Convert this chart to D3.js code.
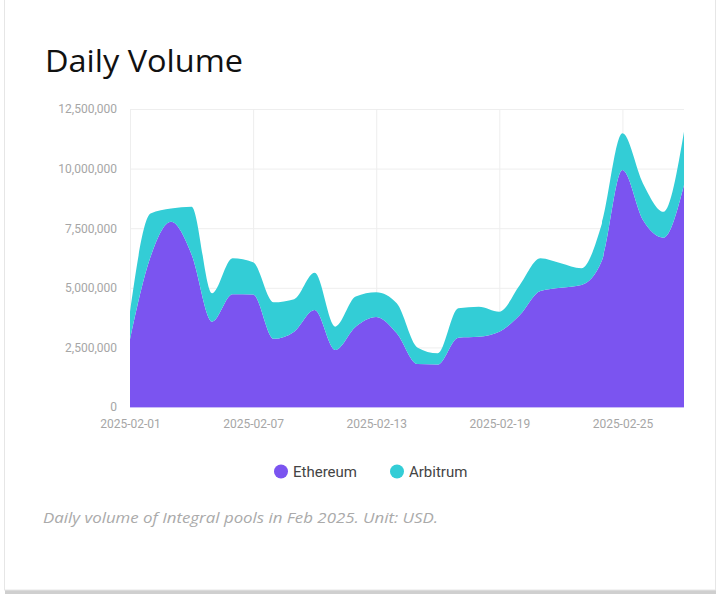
<!DOCTYPE html>
<html>
<head>
<meta charset="utf-8">
<script src="https://cdn.jsdelivr.net/npm/d3@7"></script>
<style>
  html, body { margin: 0; padding: 0; background: #ffffff; }
  svg { display: block; }
</style>
</head>
<body>
<svg id="chart" width="720" height="600"></svg>
<script>
const dates = ["2025-02-01","2025-02-02","2025-02-03","2025-02-04","2025-02-05","2025-02-06","2025-02-07",
  "2025-02-08","2025-02-09","2025-02-10","2025-02-11","2025-02-12","2025-02-13","2025-02-14",
  "2025-02-15","2025-02-16","2025-02-17","2025-02-18","2025-02-19","2025-02-20","2025-02-21",
  "2025-02-22","2025-02-23","2025-02-24","2025-02-25","2025-02-26","2025-02-27","2025-02-28"];
const ethereum = [2840000, 6300000, 7770000, 6400000, 3580000, 4730000, 4720000,
  2860000, 3160000, 4070000, 2390000, 3370000, 3780000, 3090000,
  1800000, 1780000, 2910000, 2950000, 3160000, 3860000, 4870000,
  5000000, 5120000, 6150000, 9940000, 7840000, 7100000, 9310000];
const arbitrum = [1160000, 1820000, 560000, 2000000, 1190000, 1510000, 1350000,
  1530000, 1360000, 1560000, 980000, 1260000, 1030000, 1260000,
  700000, 470000, 1230000, 1260000, 840000, 1260000, 1370000,
  1030000, 700000, 1550000, 1540000, 1540000, 1090000, 2240000];
const seriesNames = ["Ethereum", "Arbitrum"];
const seriesColors = ["#7B54F0", "#33CDD6"];
const xTickLabels = ["2025-02-01", "2025-02-07", "2025-02-13", "2025-02-19", "2025-02-25"];
const yTickValues = [0, 2500000, 5000000, 7500000, 10000000, 12500000];
const titleText = "Daily Volume";
const captionText = "Daily volume of Integral pools in Feb 2025. Unit: USD.";

const svg = d3.select("#chart");
const parse = d3.utcParse("%Y-%m-%d");

// card
const card = svg.append("g");
card.append("rect").attr("x", 5).attr("y", 590).attr("width", 711).attr("height", 4).attr("fill", "#cfcfcf");
card.append("rect").attr("x", 4.5).attr("y", -10).attr("width", 711).attr("height", 600)
  .attr("fill", "#ffffff").attr("stroke", "#e6e6e6").attr("stroke-width", 1);

const plotLeft = 130, plotRight = 684, plotTop = 109, plotBottom = 407;

const rows = dates.map((d, i) => ({ date: parse(d), Ethereum: ethereum[i], Arbitrum: arbitrum[i] }));

const x = d3.scaleUtc().domain(d3.extent(rows, r => r.date)).range([plotLeft, plotRight]);
const y = d3.scaleLinear().domain([0, 12500000]).range([plotBottom, plotTop]);

// grid
const grid = svg.append("g");
grid.selectAll("line.h").data(yTickValues).join("line")
  .attr("x1", plotLeft).attr("x2", plotRight)
  .attr("y1", d => y(d) + 0.5).attr("y2", d => y(d) + 0.5)
  .attr("stroke", "#eeeeee").attr("stroke-width", 1);
grid.selectAll("line.v").data(xTickLabels).join("line")
  .attr("x1", d => x(parse(d)) + 0.5).attr("x2", d => x(parse(d)) + 0.5)
  .attr("y1", plotTop).attr("y2", plotBottom)
  .attr("stroke", "#eeeeee").attr("stroke-width", 1);

// stacked areas
const stack = d3.stack().keys(seriesNames);
const layers = stack(rows);
const area = d3.area()
  .x(d => x(d.data.date))
  .y0(d => y(d[0]))
  .y1(d => y(d[1]))
  .curve(d3.curveMonotoneX);
svg.append("g").selectAll("path").data(layers).join("path")
  .attr("d", area)
  .attr("fill", (d, i) => seriesColors[i]);

// baseline
svg.append("line").attr("x1", plotLeft).attr("x2", plotRight).attr("y1", plotBottom + 0.5).attr("y2", plotBottom + 0.5)
  .attr("stroke", "#c9bdf7").attr("stroke-width", 1);

// axes
const yAxis = d3.axisLeft(y).tickValues(yTickValues).tickFormat(d3.format(",")).tickSize(0).tickPadding(13);
const gy = svg.append("g").attr("transform", `translate(${plotLeft},0)`).call(yAxis);
gy.select(".domain").remove();
gy.selectAll("text").attr("font-family", "Roboto").attr("font-size", 12).attr("fill", "#a6a6a6");

const xAxis = d3.axisBottom(x).tickValues(xTickLabels.map(parse)).tickFormat(d3.utcFormat("%Y-%m-%d")).tickSize(0).tickPadding(12);
const gx = svg.append("g").attr("transform", `translate(0,${plotBottom})`).call(xAxis);
gx.select(".domain").remove();
gx.selectAll("text").attr("font-family", "Roboto").attr("font-size", 12).attr("fill", "#a6a6a6");

// title
svg.append("text").attr("x", 45).attr("y", 72)
  .attr("font-family", "'Open Sans', sans-serif").attr("font-size", 31).attr("fill", "#111")
  .attr("textLength", 198).attr("lengthAdjust", "spacingAndGlyphs")
  .text(titleText);

// legend
const legendX = [281, 397];
const lg = svg.append("g");
seriesNames.forEach((name, i) => {
  lg.append("circle").attr("cx", legendX[i]).attr("cy", 471.5).attr("r", 7).attr("fill", seriesColors[i]);
  lg.append("text").attr("x", legendX[i] + 12).attr("y", 476.5)
    .attr("font-family", "Roboto").attr("font-size", 15).attr("fill", "#444")
    .text(name);
});

// caption
svg.append("text").attr("x", 43).attr("y", 523)
  .attr("font-family", "'Open Sans', sans-serif").attr("font-style", "italic").attr("font-size", 15)
  .attr("fill", "#aaaaaa")
  .attr("textLength", 395).attr("lengthAdjust", "spacingAndGlyphs")
  .text(captionText);
</script>
</body>
</html>
